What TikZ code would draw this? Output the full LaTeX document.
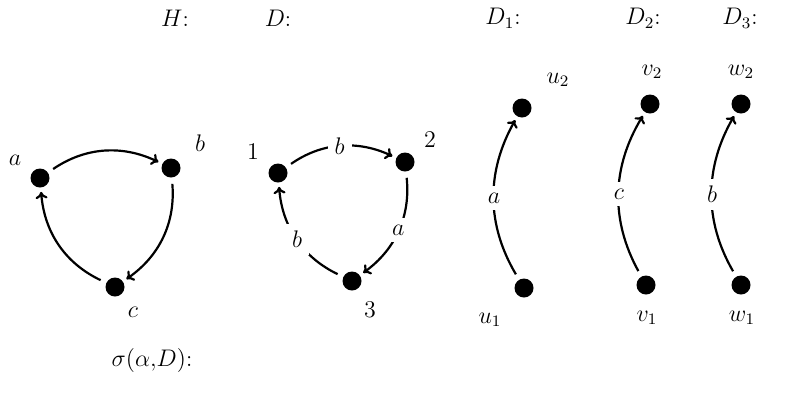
\documentclass[tikz,border=0pt]{standalone}
\usetikzlibrary{arrows.meta}
\begin{document}
\begin{tikzpicture}[x=0.5pt,y=-0.5pt,
  every node/.style={font=\fontsize{11.5}{13}\selectfont},
  dot/.style={circle,fill=black,inner sep=0pt,minimum size=9.5pt},
  lbl/.style={inner sep=1pt},
  elbl/.style={fill=white,inner sep=3.5pt},
  arc/.style={line width=1.1pt,-{To[length=3.5pt,width=6pt]},shorten <=3pt,shorten >=2pt,bend left=30}]
\useasboundingbox (0,0) rectangle (791,392);
% titles
\node (tH) at (175,18) {$H$:};
\node (tD) at (278,18) {$D$:};
\node (tD1) at (503,18) {$D_1$:};
\node (tD2) at (643,18) {$D_2$:};
\node (tD3) at (740,18) {$D_3$:};
\node (sig) at (152,360) {$\sigma(\alpha{,}D)$:};
% H
\node[dot] (a) at (40,178) {};
\node[dot] (b) at (171,168) {};
\node[dot] (c) at (115,287) {};
\node[lbl] (la) at (15,160) {$a$};
\node[lbl] (lb) at (200,143) {$b$};
\node[lbl] (lc) at (133,312) {$c$};
\draw[arc] (a) to (b);
\draw[arc] (b) to (c);
\draw[arc] (c) to (a);
% D
\node[dot] (n1) at (278,173) {};
\node[dot] (n2) at (405,162) {};
\node[dot] (n3) at (352,281) {};
\node[lbl] (l1) at (253,152) {$1$};
\node[lbl] (l2) at (430,140) {$2$};
\node[lbl] (l3) at (370,310) {$3$};
\draw[arc] (n1) to node[elbl] {$b$} (n2);
\draw[arc] (n2) to node[elbl] {$a$} (n3);
\draw[arc] (n3) to node[elbl] {$b$} (n1);
% D1
\node[dot] (u2) at (522,108) {};
\node[dot] (u1) at (524,288) {};
\node[lbl] (lu2) at (558,80) {$u_2$};
\node[lbl] (lu1) at (490,320) {$u_1$};
\draw[arc] (u1) to node[elbl] {$a$} (u2);
% D2
\node[dot] (v2) at (650,104) {};
\node[dot] (v1) at (646,285) {};
\node[lbl] (lv2) at (652,72) {$v_2$};
\node[lbl] (lv1) at (647,318) {$v_1$};
\draw[arc] (v1) to node[elbl] {$c$} (v2);
% D3
\node[dot] (w2) at (741,104) {};
\node[dot] (w1) at (741,285) {};
\node[lbl] (lw2) at (741,72) {$w_2$};
\node[lbl] (lw1) at (742,318) {$w_1$};
\draw[arc] (w1) to node[elbl] {$b$} (w2);
\end{tikzpicture}
\end{document}
